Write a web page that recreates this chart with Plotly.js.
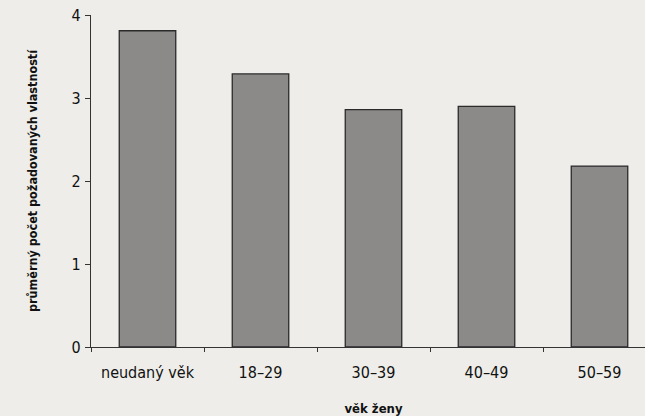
<!DOCTYPE html>
<html>
<head>
<meta charset="utf-8">
<script src="https://cdn.plot.ly/plotly-3.0.1.min.js"></script>
<style>html,body{margin:0;padding:0;background:#eeede9;overflow:hidden;width:645px;height:416px;}</style>
</head>
<body>
<div id="chart" style="width:660px;height:416px;"></div>
<script>
const categories = ["neudaný věk", "18–29", "30–39", "40–49", "50–59"];
const values = [3.81, 3.29, 2.86, 2.90, 2.18];
const yTicks = [0, 1, 2, 3, 4];

const FONT = "DejaVu Sans Condensed, Liberation Sans Narrow, sans-serif";

Plotly.newPlot("chart", [{
  type: "bar",
  x: categories,
  y: values,
  width: 0.5,
  marker: {color: "#8b8a88", line: {color: "#2a2a2a", width: 1.3}},
  hoverinfo: "none"
}], {
  width: 660, height: 416,
  margin: {l: 91, r: 4, t: 15, b: 69},
  paper_bgcolor: "#eeede9",
  plot_bgcolor: "rgba(0,0,0,0)",
  font: {family: FONT, color: "#111", size: 15},
  showlegend: false,
  xaxis: {
    type: "category",
    range: [-0.5, 4.5],
    showline: true, linecolor: "#333", linewidth: 1.2,
    ticks: "outside", tickson: "boundaries", ticklen: 4, tickcolor: "#333",
    showgrid: false, zeroline: false,
    ticklabelstandoff: 11,
    tickfont: {family: FONT, size: 16, color: "#111"},
    title: {text: "<b>věk ženy</b>", font: {family: FONT, size: 13, color: "#111"}, standoff: 24}
  },
  yaxis: {
    range: [0, 4],
    tickvals: yTicks,
    ticktext: yTicks.map(String),
    showline: true, linecolor: "#333", linewidth: 1.2,
    ticks: "outside", ticklen: 5, tickcolor: "#333",
    showgrid: false, zeroline: false,
    ticklabelstandoff: 1,
    tickfont: {family: FONT, size: 16, color: "#111"},
    title: {text: "<b>průměrný počet požadovaných vlastností</b>", font: {family: FONT, size: 12.5, color: "#111"}, standoff: 31}
  }
}, {displayModeBar: false, staticPlot: true});
</script>
</body>
</html>
